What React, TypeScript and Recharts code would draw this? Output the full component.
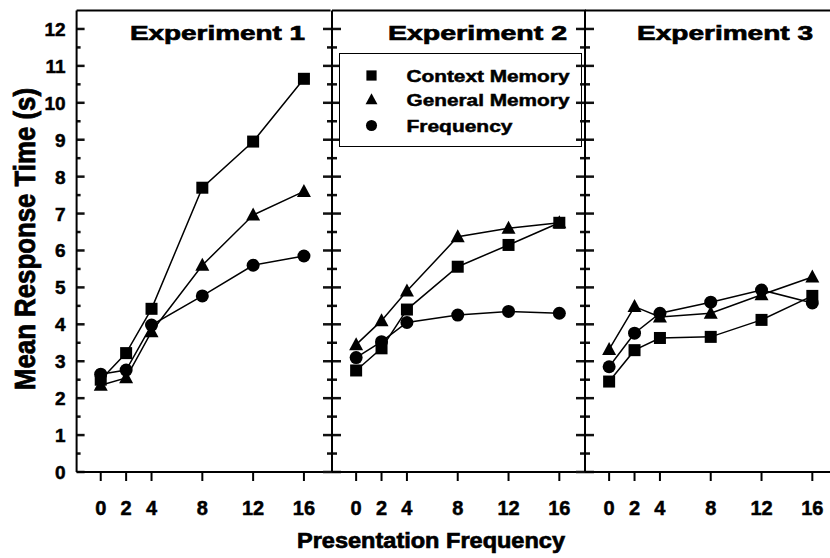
import { LineChart, Line, XAxis, YAxis, ReferenceLine, Legend } from "recharts"

const FONT = '"Liberation Sans", Arial, Helvetica, sans-serif'

// presentation frequency (x) and tick values
const freqs = [0, 2, 4, 8, 12, 16]
const xTicks = [0, 2, 4, 8, 12, 16]
const yTicks = [0, 0.5, 1, 1.5, 2, 2.5, 3, 3.5, 4, 4.5, 5, 5.5, 6, 6.5, 7, 7.5, 8, 8.5, 9, 9.5, 10, 10.5, 11, 11.5, 12]

const panelTitles = ["Experiment 1", "Experiment 2", "Experiment 3"]
const seriesNames = ["Context Memory", "General Memory", "Frequency"]

// mean response time (s)
const context1 = [2.5, 3.22, 4.42, 7.7, 8.95, 10.65]
const general1 = [2.35, 2.55, 3.8, 5.6, 6.96, 7.6]
const frequency1 = [2.65, 2.76, 3.98, 4.77, 5.6, 5.85]

const context2 = [2.75, 3.35, 4.4, 5.56, 6.15, 6.75]
const general2 = [3.45, 4.1, 4.9, 6.37, 6.6, 6.75]
const frequency2 = [3.1, 3.53, 4.05, 4.25, 4.35, 4.3]

const context3 = [2.45, 3.3, 3.63, 3.66, 4.12, 4.77]
const general3 = [3.32, 4.48, 4.2, 4.3, 4.8, 5.28]
const frequency3 = [2.85, 3.76, 4.3, 4.6, 4.93, 4.58]

const build = (c: number[], g: number[], f: number[]) =>
  freqs.map((x, i) => ({ freq: x, context: c[i], general: g[i], frequency: f[i] }))

const panels = [
  build(context1, general1, frequency1),
  build(context2, general2, frequency2),
  build(context3, general3, frequency3),
]

const kinds = ["square", "triangle", "circle"]
const keys = ["context", "general", "frequency"]

function Marker({ kind, cx, cy, s = 1 }: { kind: string; cx: number; cy: number; s?: number }) {
  if (kind === "square")
    return <rect x={cx - 6 * s} y={cy - 6 * s} width={12 * s} height={12 * s} fill="#000" />
  if (kind === "triangle")
    return (
      <polygon
        points={`${cx},${cy - 7.5 * s} ${cx + 7 * s},${cy + 5.5 * s} ${cx - 7 * s},${cy + 5.5 * s}`}
        fill="#000"
      />
    )
  return <circle cx={cx} cy={cy} r={6.5 * s} fill="#000" />
}

// labels for the leftmost axis (integers only)
const YLabel = (props: any) => {
  const v = Number(props.payload.value)
  if (!Number.isInteger(v)) return <g />
  return (
    <text
      x={Number(props.x) - 11}
      y={Number(props.y) + 7}
      textAnchor="end"
      fontSize={19}
      fontWeight={700}
      fontFamily={FONT}
      fill="#000"
      stroke="#000"
      strokeWidth={0.5}
    >
      {v}
    </text>
  )
}

const rowY = [21.5, 45.5, 71.5]
const legendWidths = [163, 163, 106]

const LegendBox = () => (
  <div
    style={{
      width: 243,
      height: 94,
      border: "1.5px solid #000",
      background: "#fff",
      boxSizing: "border-box",
    }}
  >
    <svg width={240} height={91} style={{ display: "block" }}>
      {seriesNames.map((name, i) => (
        <g key={name}>
          <Marker kind={kinds[i]} cx={31.5} cy={rowY[i]} s={0.85} />
          <text
            x={66.5}
            y={rowY[i] + 6}
            fontSize={17}
            fontWeight={700}
            fontFamily={FONT}
            fill="#000"
            stroke="#000"
            strokeWidth={0.5}
            textLength={legendWidths[i]}
            lengthAdjust="spacingAndGlyphs"
          >
            {name}
          </text>
        </g>
      ))}
    </svg>
  </div>
)

const X_MIN = -1.9
const X_MAX = 18.1
const PLOT_W = 254
const PX = PLOT_W / (X_MAX - X_MIN)
const panelLeft = [0, 319.6, 572.9]
const yAxisW = [76.6, 12, 12]

function Panel({ idx }: { idx: number }) {
  const w = Math.ceil(yAxisW[idx] + PLOT_W + 3)
  return (
    <div style={{ position: "absolute", left: panelLeft[idx], top: 0 }}>
      <LineChart
        width={w}
        height={558}
        data={panels[idx]}
        margin={{ top: 10.5, right: w - yAxisW[idx] - PLOT_W, left: 0, bottom: 0 }}
      >
        <XAxis
          dataKey="freq"
          type="number"
          domain={[X_MIN, X_MAX]}
          allowDataOverflow
          ticks={xTicks}
          interval={0}
          height={86}
          tickSize={9}
          tickMargin={20}
          axisLine={{ stroke: "#000", strokeWidth: 2 }}
          tickLine={{ stroke: "#000", strokeWidth: 2 }}
          tick={{ fill: "#000", stroke: "#000", strokeWidth: 0.5, fontSize: 20, fontWeight: 700, fontFamily: FONT }}
        />
        <YAxis
          type="number"
          domain={[0, 12.5]}
          allowDataOverflow
          ticks={yTicks}
          interval={0}
          width={yAxisW[idx]}
          tickSize={0}
          tickMargin={0}
          tickLine={false}
          axisLine={{ stroke: "#000", strokeWidth: 2 }}
          tick={idx === 0 ? <YLabel /> : false}
        />
        <ReferenceLine y={12.5} stroke="#000" strokeWidth={2} />
        {/* y tick marks: inward on the left axis, crossing on the panel dividers */}
        {yTicks.map((v) => {
          const major = Number.isInteger(v)
          const len = idx === 0 ? (major ? 8 : 4) : major ? 9 : 5
          const x0 = idx === 0 ? X_MIN : X_MIN - len / PX
          return (
            <ReferenceLine
              key={`t${v}`}
              segment={[
                { x: x0, y: v },
                { x: X_MIN + len / PX, y: v },
              ]}
              stroke="#111"
              strokeWidth={2.5}
              ifOverflow="visible"
            />
          )
        })}
        {keys.map((k, i) => (
          <Line
            key={k}
            dataKey={k}
            name={seriesNames[i]}
            stroke="#000"
            strokeWidth={1.5}
            isAnimationActive={false}
            dot={(p: any) => <Marker key={`${k}-${p.index}`} kind={kinds[i]} cx={p.cx} cy={p.cy} />}
          />
        ))}
        {idx === 1 && (
          <Legend
            layout="vertical"
            align="center"
            verticalAlign="middle"
            content={() => <LegendBox />}
            wrapperStyle={{ left: 19.4, top: 53, width: 243, height: 94 }}
          />
        )}
      </LineChart>
    </div>
  )
}

const titleX = [130, 388, 637]
const titleW = [175, 179, 176]

export default function App() {
  return (
    <div
      style={{
        position: "fixed",
        left: 0,
        top: 0,
        width: 830,
        height: 558,
        overflow: "hidden",
        background: "#fff",
      }}
    >
      {[0, 1, 2].map((i) => (
        <Panel key={i} idx={i} />
      ))}
      <svg
        width={830}
        height={558}
        style={{ position: "absolute", left: 0, top: 0, pointerEvents: "none" }}
        fontFamily={FONT}
        fontWeight={700}
        fill="#000"
        stroke="#000"
        strokeWidth={0.7}
      >
        {panelTitles.map((t, i) => (
          <text key={t} x={titleX[i]} y={40} fontSize={21} textLength={titleW[i]} lengthAdjust="spacingAndGlyphs">
            {t}
          </text>
        ))}
        <text x={297} y={548} fontSize={21.5} textLength={268} lengthAdjust="spacingAndGlyphs">
          Presentation Frequency
        </text>
        <text
          transform="translate(35,239) scale(1.15,1) rotate(-90)"
          textAnchor="middle"
          fontSize={25.5}
          textLength={302}
          lengthAdjust="spacingAndGlyphs"
        >
          Mean Response Time (s)
        </text>
      </svg>
    </div>
  )
}
